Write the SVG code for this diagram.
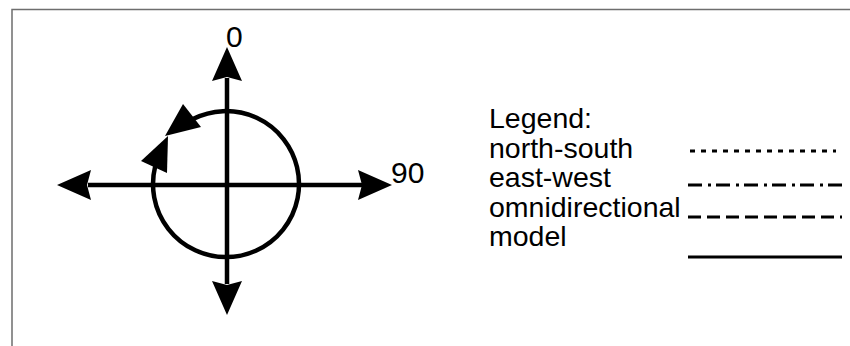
<svg xmlns="http://www.w3.org/2000/svg" width="850" height="346" viewBox="0 0 850 346">
  <style>
    .frame { fill: none; stroke: #6e6e6e; stroke-width: 1.5; }
    .axis { fill: none; stroke: #000; stroke-width: 4.5; }
    .head { fill: #000; stroke: none; }
    .label { font-family: "Liberation Sans", Arial, sans-serif; fill: #000; }
    .deg { font-size: 30px; }
    .legend { font-size: 28.5px; }
    .key { fill: none; stroke: #000; stroke-width: 3; }
  </style>
  <rect width="850" height="346" fill="#fff"/>
  <!-- page frame: top and left edges only -->
  <path class="frame" d="M12,346 V9.5 H850"/>

  <g id="connectors">
    <!-- compass axes -->
    <line class="axis" x1="88" y1="185" x2="362" y2="185"/>
    <line class="axis" x1="227" y1="78" x2="227" y2="284"/>
    <polygon class="head" points="57,185 91,170 87,185 91,200"/>
    <polygon class="head" points="392,185 358,170 362,185 358,200"/>
    <polygon class="head" points="227,47 212,81 227,77 242,81"/>
    <polygon class="head" points="227,315 212,281 227,285 242,281"/>
    <!-- rotation circle with two meeting arrowheads -->
    <path class="axis" d="M155.2,166.3 A73,73 0 1 0 192.9,119"/>
    <polygon class="head" points="165,136 183,104 201,127"/>
    <polygon class="head" points="168,136 141,161 167,173"/>
  </g>

  <g id="label-0"><text class="label deg" x="226" y="47">0</text></g>
  <g id="label-90"><text class="label deg" x="391" y="183">90</text></g>

  <g id="legend">
    <text class="label legend" x="489" y="128">Legend:</text>
    <text class="label legend" x="489" y="157.5">north-south</text>
    <text class="label legend" x="489" y="187">east-west</text>
    <text class="label legend" x="489" y="216.5">omnidirectional</text>
    <text class="label legend" x="489" y="246">model</text>
    <line class="key" x1="690" y1="151" x2="836" y2="151" stroke-width="2" stroke-dasharray="5 6"/>
    <line class="key" x1="688" y1="185" x2="842" y2="185" stroke-dasharray="14 6 3 5"/>
    <line class="key" x1="688" y1="217" x2="842" y2="217" stroke-dasharray="13 6"/>
    <line class="key" x1="688" y1="257" x2="842" y2="257"/>
  </g>
</svg>
